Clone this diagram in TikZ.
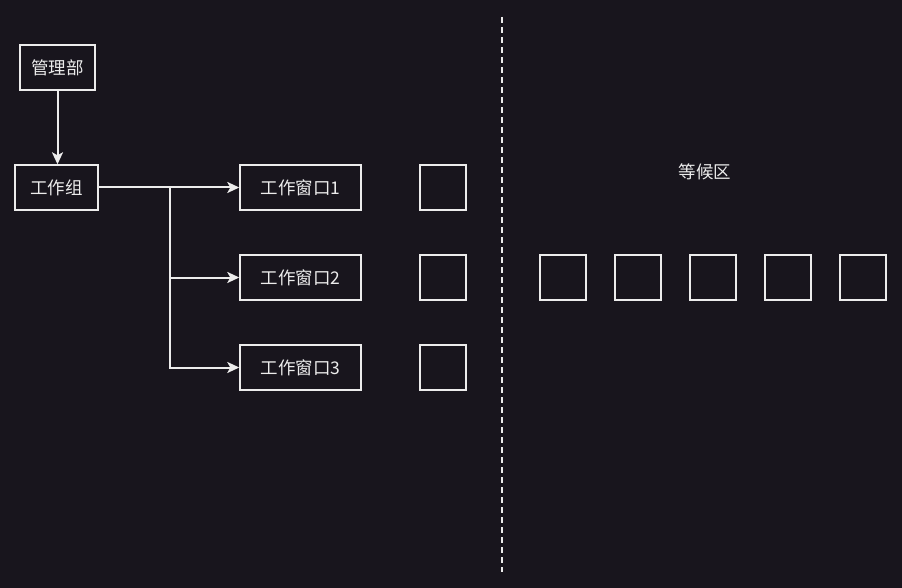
\documentclass[tikz,border=0pt]{standalone}
\usepackage{fontspec}
\setmainfont{Noto Sans CJK SC}
\usetikzlibrary{arrows.meta}
\definecolor{bg}{RGB}{24,21,29}
\definecolor{fg}{RGB}{236,236,236}
\begin{document}
\begin{tikzpicture}[x=1pt,y=-1pt,
  box/.style={draw=fg,line width=1.4pt,fill=bg,text=fg,font=\fontsize{17.5}{19}\selectfont,inner sep=0pt,anchor=center},
  link/.style={draw=fg,line width=2pt,-{Stealth[length=12pt,width=11pt,inset=3pt]}}]
\fill[bg] (0,0) rectangle (902,588);
\useasboundingbox (0,0) rectangle (902,588);
\draw[fg,line width=1.4pt,dash pattern=on 6pt off 4pt] (502,17) -- (502,572);
\node[box,minimum width=75pt,minimum height=45pt] (mgr) at (57.5,67.5) {管理部};
\node[box,minimum width=83pt,minimum height=45pt] (grp) at (56.5,187.5) {工作组};
\node[box,minimum width=121pt,minimum height=45pt] (w1) at (300.5,187.5) {工作窗口1};
\node[box,minimum width=121pt,minimum height=45pt] (w2) at (300.5,277.5) {工作窗口2};
\node[box,minimum width=121pt,minimum height=45pt] (w3) at (300.5,367.5) {工作窗口3};
\foreach \n/\y in {1/187.5,2/277.5,3/367.5}
  \node[box,minimum width=46pt,minimum height=45pt] (s\n) at (443,\y) {};
\foreach \n/\x in {1/563,2/638,3/713,4/788,5/863}
  \node[box,minimum width=46pt,minimum height=45pt] (q\n) at (\x,277.5) {};
\node[text=fg,font=\fontsize{17.5}{19}\selectfont] (wait) at (705,172) {等候区};
\coordinate (br) at (170,187.5);
\draw[link] (mgr.south) -- (mgr.south |- grp.north);
\draw[link] (grp.east) -- (w1.west);
\draw[link] (br) |- (w2.west);
\draw[link] (br) |- (w3.west);
\end{tikzpicture}
\end{document}
